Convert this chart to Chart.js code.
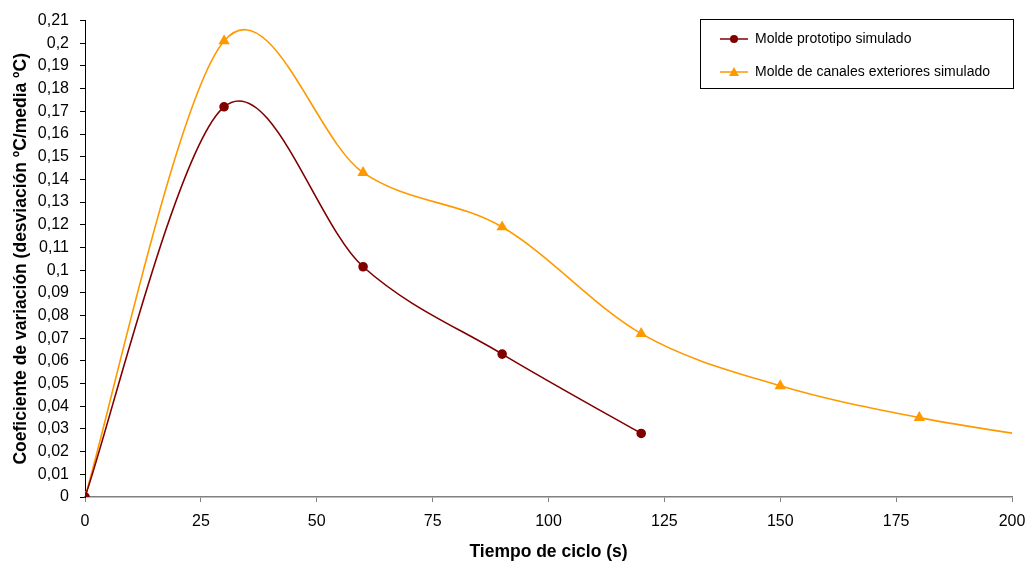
<!DOCTYPE html>
<html>
<head>
<meta charset="utf-8">
<script src="https://cdn.jsdelivr.net/npm/chart.js@4/dist/chart.umd.min.js"></script>
<style>
  html, body { margin: 0; padding: 0; background: #fff; }
  #wrap { width: 1029px; height: 563px; position: relative; }
</style>
</head>
<body>
<div id="wrap"><canvas id="chart"></canvas></div>
<script>
// Data
const protoX = [0, 30, 60, 90, 120];
const protoY = [0, 0.172, 0.1015, 0.063, 0.028];
const canalesX = [0, 30, 60, 90, 120, 150, 180, 210];
const canalesY = [0, 0.201, 0.143, 0.119, 0.072, 0.049, 0.035, 0.025];
const protoLabel = 'Molde prototipo simulado';
const canalesLabel = 'Molde de canales exteriores simulado';
const xTitle = 'Tiempo de ciclo (s)';
const yTitle = 'Coeficiente de variación (desviación ºC/media ºC)';

const RED = '#800000';
const ORANGE = '#FF9900';
const FONT = "'Liberation Sans', Arial, sans-serif";

const toPts = (xs, ys) => xs.map((x, i) => ({ x: x, y: ys[i] }));
const fmt = v => String(Math.round(v * 100) / 100).replace('.', ',');

// Excel style smoothing: control arms = (next - prev) / 6, capped at half the segment
const excelSmooth = {
    id: 'excelSmooth',
    beforeDatasetsDraw(chart) {
        chart.data.datasets.forEach((ds, di) => {
            const meta = chart.getDatasetMeta(di);
            const pts = meta.data;
            const n = pts.length;
            const dist = (a, b) => Math.hypot(b.x - a.x, b.y - a.y);
            for (let i = 0; i < n - 1; i++) {
                const p0 = pts[Math.max(i - 1, 0)], p1 = pts[i], p2 = pts[i + 1], p3 = pts[Math.min(i + 2, n - 1)];
                const d12 = dist(p1, p2);
                const d02 = dist(p0, p2), d13 = dist(p1, p3);
                let f1 = 1 / 6, f2 = 1 / 6;
                if (d02 / 6 > d12 / 2) f1 = (d12 / 2) / d02;
                if (d13 / 6 > d12 / 2) f2 = (d12 / 2) / d13;
                p1.cp2x = p1.x + (p2.x - p0.x) * f1;
                p1.cp2y = p1.y + (p2.y - p0.y) * f1;
                p2.cp1x = p2.x - (p3.x - p1.x) * f2;
                p2.cp1y = p2.y - (p3.y - p1.y) * f2;
            }
            pts[0].cp1x = pts[0].x; pts[0].cp1y = pts[0].y;
            pts[n - 1].cp2x = pts[n - 1].x; pts[n - 1].cp2y = pts[n - 1].y;
            meta.dataset._pointsUpdated = true;
            meta.dataset._path = undefined;
        });
    }
};

// legend box drawn inside the plot like the original
const legendBox = {
    id: 'legendBox',
    afterDraw(chart) {
        const ctx = chart.ctx;
        const x0 = 700, y0 = 19, w = 313, h = 69;
        ctx.save();
        ctx.fillStyle = '#fff';
        ctx.fillRect(x0, y0, w, h);
        ctx.strokeStyle = '#000';
        ctx.lineWidth = 1;
        ctx.strokeRect(x0 + 0.5, y0 + 0.5, w, h);
        const items = [
            { label: protoLabel, color: RED, shape: 'circle', y: y0 + 20 },
            { label: canalesLabel, color: ORANGE, shape: 'tri', y: y0 + 53 }
        ];
        items.forEach(it => {
            ctx.strokeStyle = it.color;
            ctx.lineWidth = 1.5;
            ctx.beginPath();
            ctx.moveTo(720, it.y);
            ctx.lineTo(748, it.y);
            ctx.stroke();
            ctx.fillStyle = it.color;
            ctx.beginPath();
            if (it.shape === 'circle') {
                ctx.arc(734, it.y, 4, 0, Math.PI * 2);
            } else {
                ctx.moveTo(734, it.y - 5);
                ctx.lineTo(739, it.y + 4);
                ctx.lineTo(729, it.y + 4);
                ctx.closePath();
            }
            ctx.fill();
            ctx.fillStyle = '#000';
            ctx.font = '14px ' + FONT;
            ctx.textBaseline = 'middle';
            ctx.fillText(it.label, 755, it.y);
        });
        ctx.restore();
    }
};

new Chart(document.getElementById('chart'), {
    type: 'line',
    data: {
        datasets: [
            {
                label: protoLabel,
                data: toPts(protoX, protoY),
                borderColor: RED,
                backgroundColor: RED,
                borderWidth: 1.6,
                pointStyle: 'circle',
                pointRadius: 4,
                tension: 0.5
            },
            {
                label: canalesLabel,
                data: toPts(canalesX, canalesY),
                borderColor: ORANGE,
                backgroundColor: ORANGE,
                borderWidth: 1.6,
                pointStyle: 'triangle',
                pointRadius: 5,
                tension: 0.5
            }
        ]
    },
    options: {
        responsive: true,
        maintainAspectRatio: false,
        animation: false,
        layout: { padding: { top: 19, right: 17, left: 0, bottom: 0 } },
        plugins: { legend: { display: false }, tooltip: { enabled: false } },
        scales: {
            x: {
                type: 'linear',
                min: 0, max: 200,
                afterFit: s => { s.height = 66; s.paddingRight = 0; s.paddingLeft = 0; },
                ticks: { stepSize: 25, color: '#000', font: { family: FONT, size: 16 }, padding: 10, maxRotation: 0 },
                grid: { drawOnChartArea: false, tickLength: 5, color: '#808080' },
                border: { color: '#808080', width: 1.5 },
                title: { display: true, text: xTitle, color: '#000', font: { family: FONT, size: 17.5, weight: 'bold' }, padding: { top: 0, bottom: 0 } }
            },
            y: {
                min: 0, max: 0.21,
                afterFit: s => { s.width = 85; },
                afterBuildTicks: s => {
                    s.ticks = [];
                    for (let i = 0; i <= 21; i++) s.ticks.push({ value: i / 100 });
                },
                ticks: { color: '#000', font: { family: FONT, size: 16 }, padding: 11, callback: v => fmt(v) },
                grid: { drawOnChartArea: false, tickLength: 5, color: '#000' },
                border: { color: '#000', width: 1 },
                title: { display: true, text: yTitle, color: '#000', font: { family: FONT, size: 17.5, weight: 'bold' }, padding: { top: 11, bottom: 0 } }
            }
        }
    },
    plugins: [excelSmooth, legendBox]
});
</script>
</body>
</html>
